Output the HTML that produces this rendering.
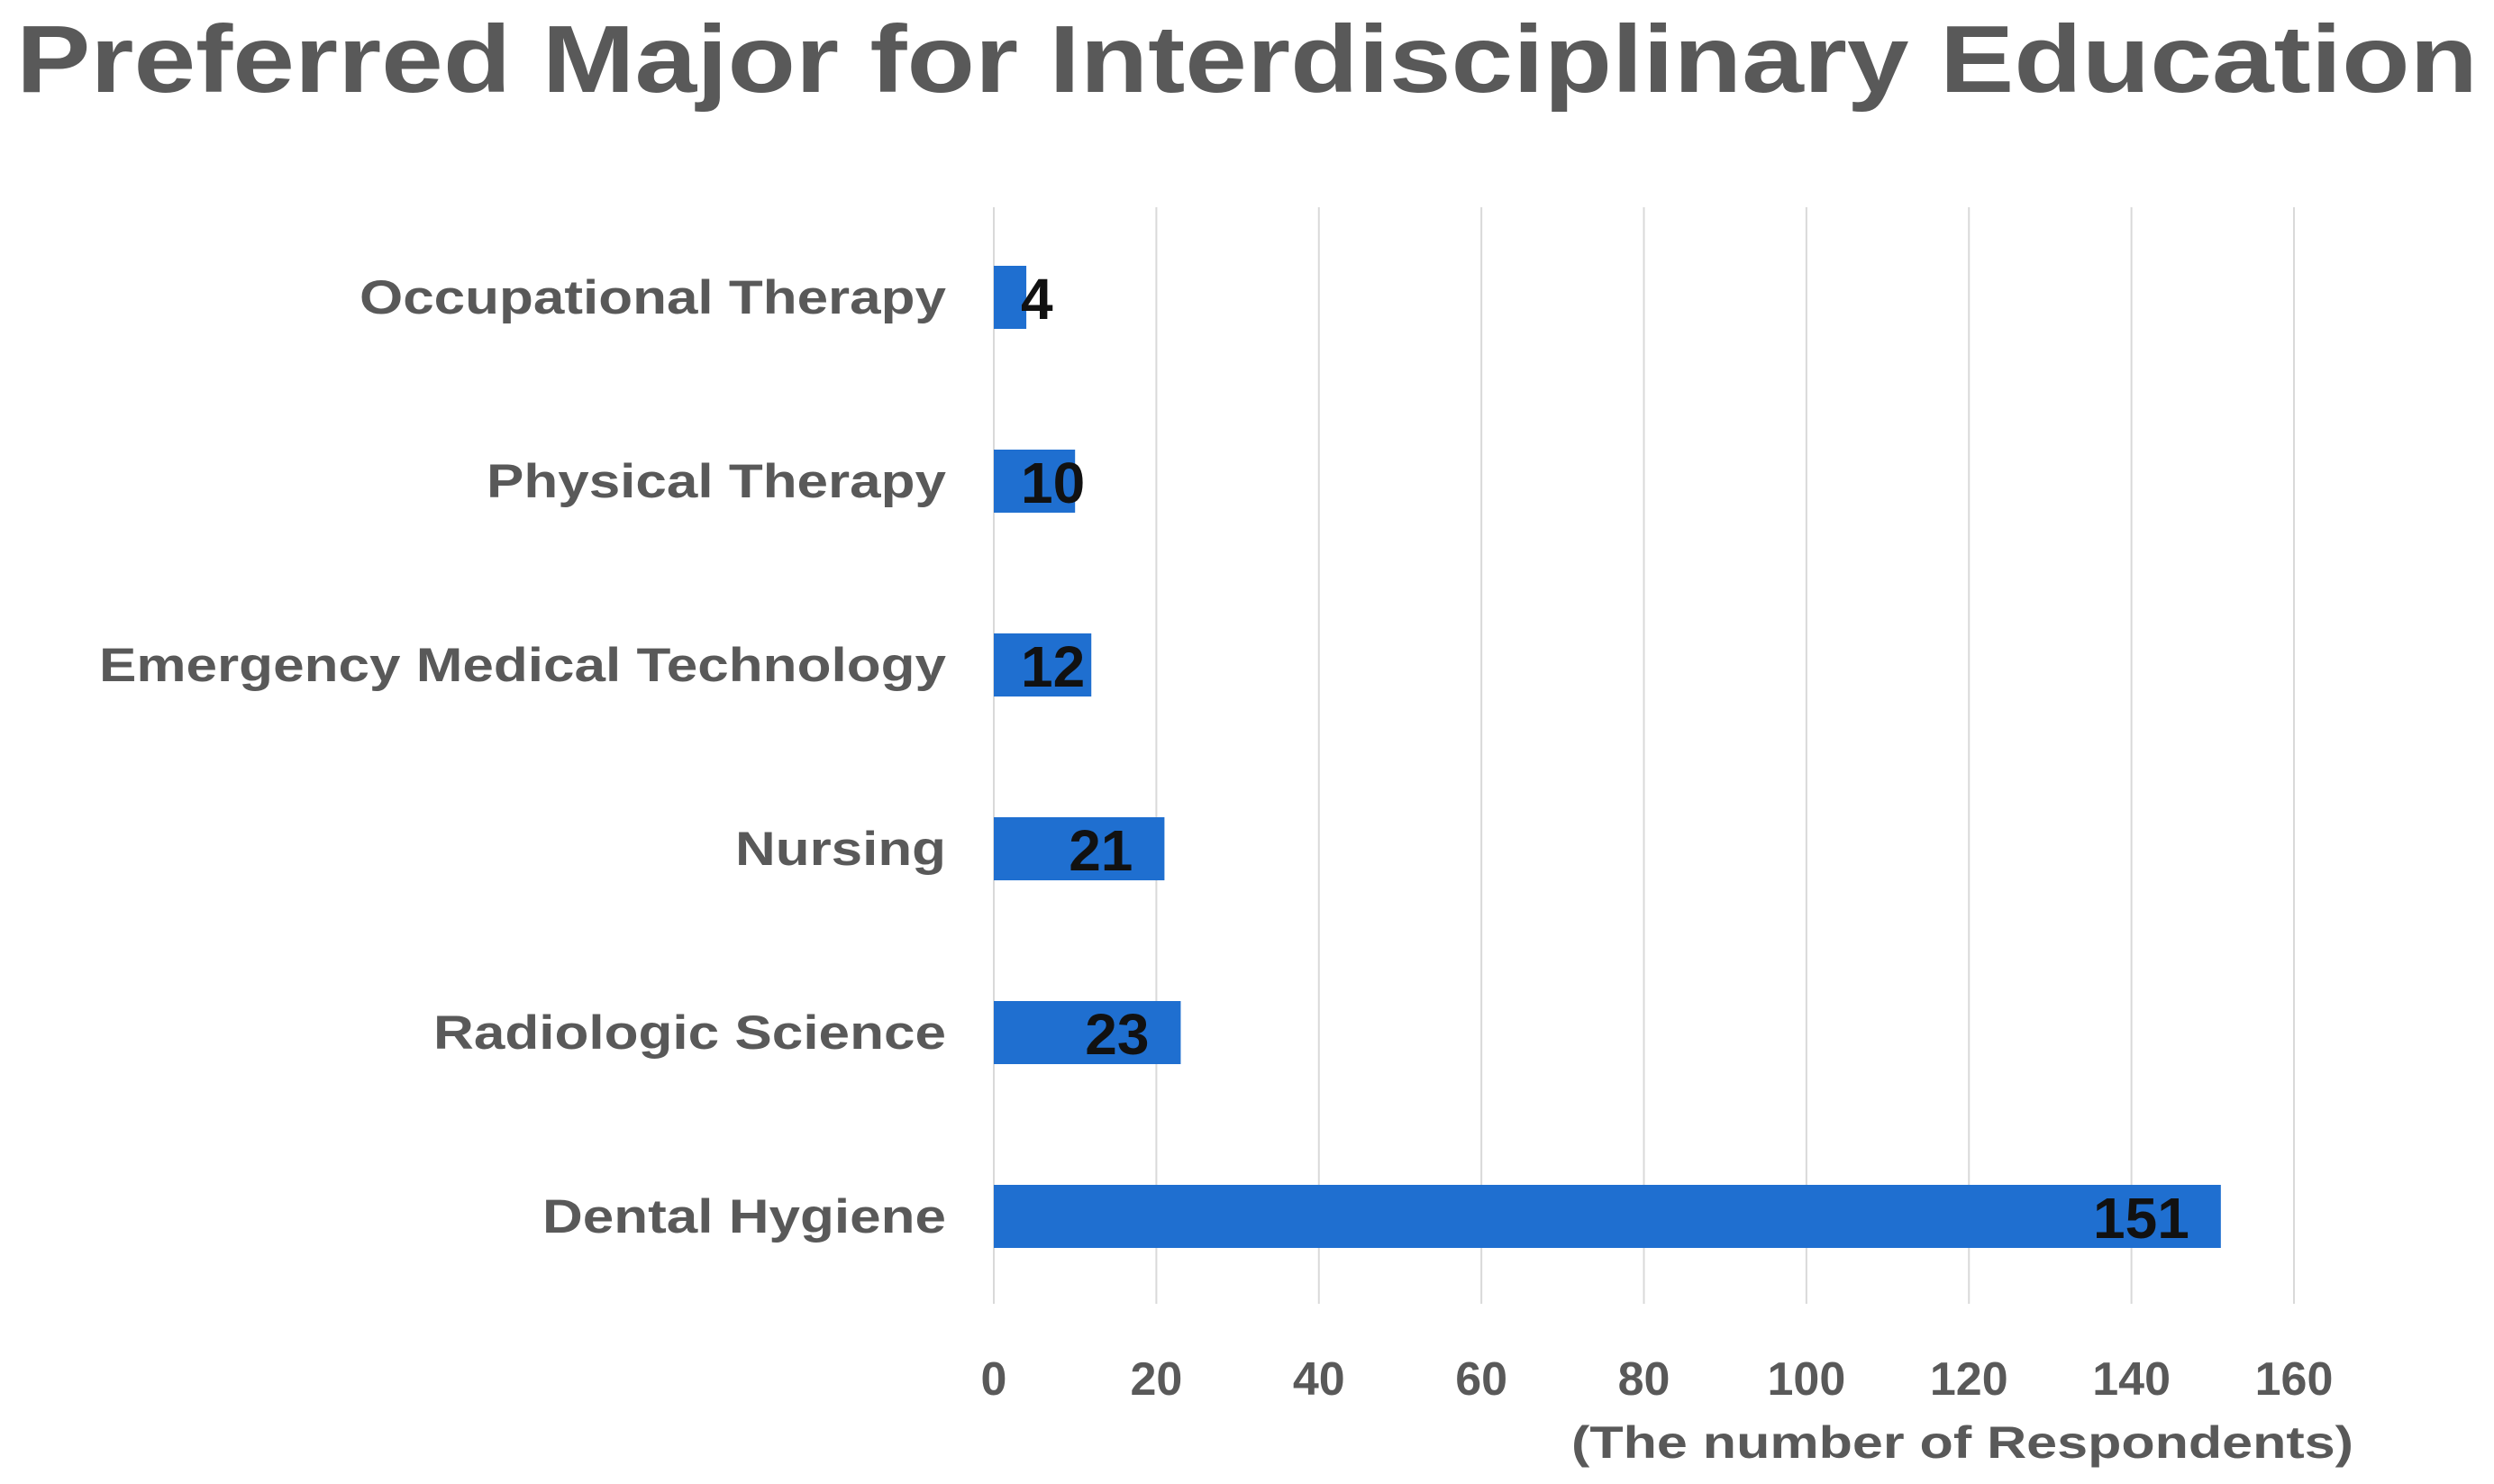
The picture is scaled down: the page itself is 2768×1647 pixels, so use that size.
<!DOCTYPE html>
<html><head><meta charset="utf-8"><style>
html,body{margin:0;padding:0;background:#fff;}
svg{display:block;font-family:"Liberation Sans",sans-serif;}
</style></head><body>
<svg id="chart" width="2768" height="1647" viewBox="0 0 2768 1647">
<text x="18" y="102" font-size="106" font-weight="bold" fill="#595959" textLength="2732" lengthAdjust="spacingAndGlyphs">Preferred Major for Interdisciplinary Education</text>
<g id="grid"></g>
<g id="bars"></g>
<g id="ylabels"></g>
<g id="xticks"></g>
<text x="2612" y="1618" font-size="50" font-weight="bold" fill="#595959" text-anchor="end" textLength="868" lengthAdjust="spacingAndGlyphs">(The number of Respondents)</text>
</svg>
<script>
const categories = ["Occupational Therapy","Physical Therapy","Emergency Medical Technology","Nursing","Radiologic Science","Dental Hygiene"];
const values = [4,10,12,21,23,151];
const ticks = [0,20,40,60,80,100,120,140,160];
const NS="http://www.w3.org/2000/svg";
const x0=1103, x1=2546, xmax=160, yTop=230, yBot=1447, c0=330, c1=1350, barH=70;
function xs(v){return x0+(x1-x0)*v/xmax;}
function ys(i){return c0+(c1-c0)*i/(categories.length-1);}
function mk(tag,attrs,parent){const e=document.createElementNS(NS,tag);for(const k in attrs)e.setAttribute(k,attrs[k]);parent.appendChild(e);return e;}
const grid=document.getElementById('grid'),bars=document.getElementById('bars'),yl=document.getElementById('ylabels'),xt=document.getElementById('xticks');
ticks.forEach(t=>{
  const l=mk('line',{x1:xs(t),x2:xs(t),y1:yTop,y2:yBot,stroke:'#d9d9d9','stroke-width':2},grid);
  
  
  const tx=mk('text',{x:xs(t),y:1548,'font-size':52,'font-weight':'bold',fill:'#595959','text-anchor':'middle'},xt);
  tx.textContent=t;
  
  
});
categories.forEach((c,i)=>{
  const cy=ys(i);
  const r=mk('rect',{x:x0,y:cy-barH/2,width:xs(values[i])-x0,height:barH,fill:'#1f6fd0'},bars);
  
  
  const lb=mk('text',{x:1050,y:cy+18,'font-size':53,'font-weight':'bold',fill:'#595959','text-anchor':'end'},yl);
  lb.textContent=c;
  
  
  const w0=lb.getComputedTextLength();
  lb.setAttribute('textLength',(w0*1.17).toFixed(0));
  lb.setAttribute('lengthAdjust','spacingAndGlyphs');
  const vl=mk('text',{x:0,y:cy+24,'font-size':64,'font-weight':'bold',fill:'#111'},bars);
  vl.textContent=values[i];
  
  
  const w=vl.getComputedTextLength();
  vl.setAttribute('x',Math.max(xs(values[i])-35-w,x0+30));
});
</script>
</body></html>
